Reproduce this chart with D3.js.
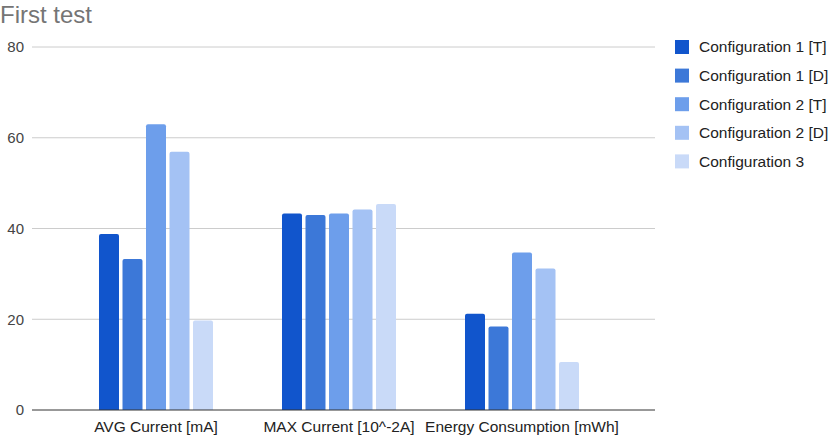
<!DOCTYPE html>
<html><head><meta charset="utf-8">
<script src="https://cdn.jsdelivr.net/npm/d3@7"></script>
<style>body{margin:0;background:#fff}svg{display:block;font-family:Arial,"Liberation Sans",sans-serif}</style>
</head><body><svg id="c" width="829" height="439"></svg>
<script>
const categories = ["AVG Current [mA]", "MAX Current [10^-2A]", "Energy Consumption [mWh]"];
const seriesNames = ["Configuration 1 [T]", "Configuration 1 [D]", "Configuration 2 [T]", "Configuration 2 [D]", "Configuration 3"];
const config1T = [38.8, 43.3, 21.2];
const config1D = [33.3, 43.0, 18.4];
const config2T = [63.0, 43.3, 34.7];
const config2D = [56.9, 44.2, 31.2];
const config3 = [19.7, 45.4, 10.6];
const yTicks = [0, 20, 40, 60, 80];
const colors = ["#1155cc", "#3c78d8", "#6d9eeb", "#a4c2f4", "#c9daf8"];
const series = [config1T, config1D, config2T, config2D, config3];

const svg = d3.select("#c");
const y = d3.scaleLinear().domain([0, 80]).range([410, 47]);
const x0 = d3.scaleBand().domain(categories).range([64.5, 613.5]).paddingInner(0).paddingOuter(0);
const x1 = d3.scaleBand().domain(d3.range(series.length)).range([0, x0.bandwidth()]).paddingInner(0.149).paddingOuter(1.468);

svg.append("text").attr("x", 0).attr("y", 22.5).attr("font-size", 24).attr("fill", "#757575").text("First test");

const grid = svg.append("g");
grid.selectAll("line").data(yTicks.filter(d => d > 0)).join("line")
  .attr("x1", 32).attr("x2", 655).attr("y1", d => y(d)).attr("y2", d => y(d))
  .attr("stroke", "#cccccc").attr("stroke-width", 1);
svg.append("g").selectAll("text").data(yTicks).join("text")
  .attr("x", 24).attr("y", d => y(d)).attr("dy", "0.35em").attr("text-anchor", "end")
  .attr("font-size", 15).attr("fill", "#444").text(d => d);

const g = svg.append("g");
categories.forEach((cat, ci) => {
  g.append("g").attr("transform", `translate(${x0(cat)},0)`)
    .selectAll("path").data(series.map((s, si) => ({si, v: s[ci]}))).join("path")
    .attr("fill", d => colors[d.si])
    .attr("d", d => {
      const bx = x1(d.si), w = x1.bandwidth(), top = y(d.v), bot = y(0), r = 2;
      return `M${bx},${bot}V${top + r}Q${bx},${top} ${bx + r},${top}H${bx + w - r}Q${bx + w},${top} ${bx + w},${top + r}V${bot}Z`;
    });
});

svg.append("line").attr("x1", 32).attr("x2", 655).attr("y1", y(0)).attr("y2", y(0)).attr("stroke", "#333").attr("stroke-width", 1);

svg.append("g").selectAll("text").data(categories).join("text")
  .attr("x", d => x0(d) + x0.bandwidth() / 2).attr("y", 432).attr("text-anchor", "middle")
  .attr("font-size", 15.5).attr("fill", "#222").text(d => d);

const leg = svg.append("g").selectAll("g").data(seriesNames).join("g")
  .attr("transform", (d, i) => `translate(675,${47 + i * 28.6})`);
leg.append("rect").attr("x", 0).attr("y", -7).attr("width", 14).attr("height", 14).attr("fill", (d, i) => colors[i]);
leg.append("text").attr("x", 24).attr("dy", "0.35em").attr("font-size", 15.5).attr("fill", "#222").text(d => d);
</script></body></html>
